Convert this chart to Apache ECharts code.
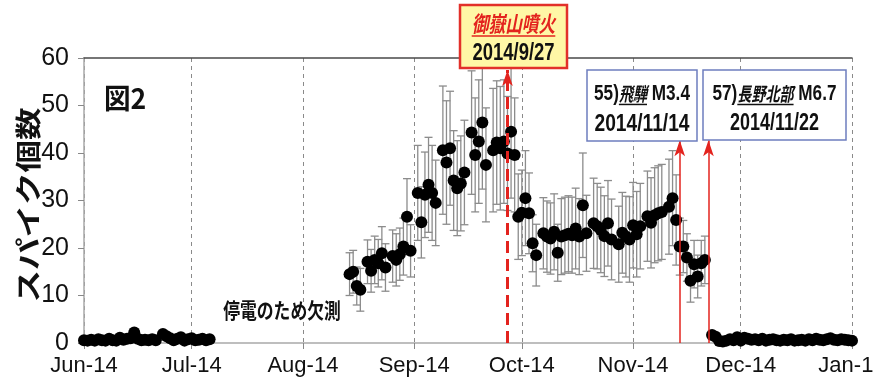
<!DOCTYPE html>
<html><head><meta charset="utf-8">
<script src="https://cdn.jsdelivr.net/npm/echarts@6/dist/echarts.min.js"></script>
<style>html,body{margin:0;padding:0;background:#fff}#c{width:874px;height:391px}</style>
</head><body><div id="c"></div>
<script>
// ---------- data ----------
const dates = [
 '2014-06-01','2014-06-02','2014-06-03','2014-06-04','2014-06-05','2014-06-06','2014-06-07','2014-06-08','2014-06-09','2014-06-10',
 '2014-06-11','2014-06-12','2014-06-13','2014-06-14','2014-06-15','2014-06-16','2014-06-17','2014-06-18','2014-06-19','2014-06-20','2014-06-21',
 '2014-06-23','2014-06-24','2014-06-25','2014-06-26','2014-06-27','2014-06-28','2014-06-29','2014-06-30',
 '2014-07-01','2014-07-02','2014-07-03','2014-07-04','2014-07-05','2014-07-06',
 '2014-08-14','2014-08-15','2014-08-16','2014-08-17','2014-08-19','2014-08-20','2014-08-21','2014-08-22','2014-08-23','2014-08-24',
 '2014-08-26','2014-08-27','2014-08-28','2014-08-29','2014-08-30','2014-08-31',
 '2014-09-02','2014-09-03','2014-09-04','2014-09-05','2014-09-06','2014-09-07','2014-09-09','2014-09-10','2014-09-11','2014-09-12',
 '2014-09-13','2014-09-14','2014-09-15','2014-09-17','2014-09-18','2014-09-19','2014-09-20','2014-09-21','2014-09-23','2014-09-24',
 '2014-09-25','2014-09-26','2014-09-27','2014-09-28','2014-09-29','2014-09-30',
 '2014-10-01','2014-10-02','2014-10-03','2014-10-04','2014-10-05','2014-10-07','2014-10-08','2014-10-09','2014-10-10','2014-10-11',
 '2014-10-12','2014-10-13','2014-10-14','2014-10-15','2014-10-16','2014-10-17','2014-10-18','2014-10-19','2014-10-21','2014-10-22',
 '2014-10-23','2014-10-24','2014-10-25','2014-10-26','2014-10-28','2014-10-29','2014-10-30','2014-10-31',
 '2014-11-01','2014-11-02','2014-11-03','2014-11-05','2014-11-06','2014-11-07','2014-11-08','2014-11-09','2014-11-11','2014-11-12',
 '2014-11-13','2014-11-14','2014-11-15','2014-11-16','2014-11-17','2014-11-18','2014-11-19','2014-11-20','2014-11-21',
 '2014-11-23','2014-11-24','2014-11-25','2014-11-26','2014-11-27','2014-11-28','2014-11-29','2014-11-30',
 '2014-12-01','2014-12-02','2014-12-03','2014-12-04','2014-12-05','2014-12-06','2014-12-07','2014-12-08','2014-12-09','2014-12-10',
 '2014-12-11','2014-12-12','2014-12-13','2014-12-14','2014-12-15','2014-12-16','2014-12-17','2014-12-18','2014-12-19','2014-12-20',
 '2014-12-21','2014-12-22','2014-12-23','2014-12-24','2014-12-25','2014-12-26','2014-12-27','2014-12-28','2014-12-29','2014-12-30',
 '2014-12-31','2015-01-01'
];
const spikes = [
 0.6,0.5,0.7,0.5,0.8,0.6,0.5,0.9,0.6,0.5, 1.1,0.7,0.9,1.0,2.2,0.9,0.6,0.7,0.6,0.8,0.6,
 1.9,1.4,1.0,0.6,0.9,1.2,0.5,0.8, 1.0,0.6,0.7,0.9,0.6,0.8,
 14.5,15.0,12.0,11.2,17.1,15.2,17.5,16.8,18.9,15.9, 18.3,17.5,18.7,20.3,26.6,19.4,
 31.6,25.4,31.2,33.3,31.6,29.5,40.6,38.0,41.0,34.2, 32.6,33.6,35.9,44.3,39.6,42.4,46.4,37.5,40.6,42.2,
 41.0,42.4,39.9,44.5,39.6,26.6,
 27.4,30.5,27.3,21.0,18.5,23.1,22.4,22.0,23.4,19.0, 22.4,22.7,23.0,22.7,24.1,22.4,29.0,23.1,25.2,24.6,
 23.8,22.5,25.2,21.8,20.8,23.2,22.4,21.8,
 24.8,22.9,24.6,26.7,25.3,26.9,27.3,27.6,28.7,30.5, 25.9,20.3,20.3,18.0,13.1,16.6,14.0,16.8,17.5,
 1.7,1.3,0.4,0.3,0.5,0.8,0.6,1.2,
 0.5,1.1,0.9,0.7,0.8,0.6,0.9,0.5,0.7,0.8, 0.6,0.5,0.7,0.6,0.8,0.5,0.6,0.7,0.5,0.8,
 0.6,0.9,0.7,0.6,0.8,1.0,0.7,0.6,0.8,0.7, 0.6,0.5
];
// half-length of the error bar (null = too small to show)
const errs = [
 null,null,null,null,null,null,null,null,null,null, null,null,null,null,null,null,null,null,null,null,null,
 null,null,null,null,null,null,null,null, null,null,null,null,null,null,
 4.5,4.5,4.0,4.5,4.6,4.5,5.0,5.0,5.6,5.0, 5.5,5.5,5.5,6.0,8.0,5.5,
 10,7.5,9,10,10,9,13.5,13,12,10.5, 10,10,11,13,12,13,14,12,13,13,
 13,13,12,14,12,9,
 9,10,8.5,6,6.5,7.5,7.5,7.5,8,6, 8,8,8,8,8.5,8,11,8,9.5,9,
 9,8.5,9,8.5,8,8.5,8.5,9,
 9,9,9,9.5,9.5,10,10,10,10,10, 9.5,6,5.5,5,4.5,5,4.5,4.8,5,
 null,null,null,null,null,null,null,null,
 null,null,null,null,null,null,null,null,null,null, null,null,null,null,null,null,null,null,null,null,
 null,null,null,null,null,null,null,null,null,null, null,null
];
const monthNames = ['Jan','Feb','Mar','Apr','May','Jun','Jul','Aug','Sep','Oct','Nov','Dec'];
const yTickValues = [0,10,20,30,40,50,60];
const eventDates = ['2014-09-27','2014-11-14','2014-11-22'];
const eventArrowTop = [57.5, 42.7, 42.7];
const yAxisTitle = 'スパイク個数';
const figLabel = '図2';
const gapNote = '停電のため欠測';

// ---------- fonts / helpers ----------
const FNUM = "'Liberation Sans',Arial,'Noto Sans CJK JP',sans-serif";
const FJP = "'Noto Sans CJK JP','Noto Sans CJK SC',sans-serif";
const mctx = document.createElement('canvas').getContext('2d');
function measure(t, s) {
  mctx.font = (s.italic ? 'italic ' : '') + (s.bold ? 'bold ' : '') + s.fs + 'px ' + s.font;
  return mctx.measureText(t).width;
}
function textEl(t, x, y, s, align) {
  return { type: 'text', x: x, y: y, scaleX: s.sx || 1, rotation: s.rot || 0, z: 101,
    style: { text: t, x: 0, y: 0, fill: s.color || '#111', fontSize: s.fs, fontFamily: s.font,
      fontWeight: s.bold ? 'bold' : 'normal', fontStyle: s.italic ? 'italic' : 'normal',
      align: align || 'left', verticalAlign: 'middle' } };
}
function box(b) {
  const els = [{ type: 'rect', z: 100, shape: { x: b.x, y: b.y, width: b.w, height: b.h },
    style: { fill: b.fill, stroke: b.stroke, lineWidth: b.lw } }];
  const cx = b.x + b.w / 2;
  b.lines.forEach(function (ln) {
    const ws = ln.segs.map(function (s) { return measure(s.t, s) * (s.sx || 1); });
    const tot = ws.reduce(function (a, c) { return a + c; }, 0);
    let cur = cx - tot / 2;
    ln.segs.forEach(function (s, i) {
      els.push(textEl(s.t, cur, ln.cy, s));
      if (s.ul) els.push({ type: 'line', z: 101, shape: { x1: cur, y1: ln.cy + s.fs * 0.55, x2: cur + ws[i], y2: ln.cy + s.fs * 0.55 },
        style: { stroke: s.color || '#111', lineWidth: 1.5 } });
      cur += ws[i];
    });
  });
  return els;
}

// ---------- series data ----------
const pointData = dates.map(function (d, i) { return [d, spikes[i]]; });
const barData = [];
dates.forEach(function (d, i) {
  if (errs[i] != null) barData.push([d, Math.max(0, spikes[i] - errs[i]), Math.min(60, spikes[i] + errs[i])]);
});

const RED = '#E3231E';
const graphics = [].concat(
  box({ x: 460, y: 5, w: 107, h: 63, fill: '#FFF7A6', stroke: '#E2302A', lw: 2.5, lines: [
    { cy: 24, segs: [{ t: '御嶽山噴火', fs: 22, sx: 0.76, color: RED, italic: true, bold: true, ul: true, font: FJP }] },
    { cy: 53, segs: [{ t: '2014/9/27', fs: 24, sx: 0.77, bold: true, font: FNUM }] } ] }),
  box({ x: 587, y: 70, w: 110, h: 71, fill: '#ffffff', stroke: '#6E7EBE', lw: 1.5, lines: [
    { cy: 94, segs: [{ t: '55)', fs: 22, sx: 0.78, bold: true, font: FNUM },
                     { t: '飛騨', fs: 19, sx: 0.74, bold: true, italic: true, ul: true, font: FJP },
                     { t: ' M3.4', fs: 22, sx: 0.78, bold: true, font: FNUM }] },
    { cy: 124, segs: [{ t: '2014/11/14', fs: 24, sx: 0.8, bold: true, font: FNUM }] } ] }),
  box({ x: 703, y: 70, w: 143, h: 70, fill: '#ffffff', stroke: '#6E7EBE', lw: 1.5, lines: [
    { cy: 94, segs: [{ t: '57)', fs: 22, sx: 0.78, bold: true, font: FNUM },
                     { t: '長野北部', fs: 19, sx: 0.74, bold: true, italic: true, ul: true, font: FJP },
                     { t: ' M6.7', fs: 22, sx: 0.78, bold: true, font: FNUM }] },
    { cy: 124, segs: [{ t: '2014/11/22', fs: 23, sx: 0.78, bold: true, font: FNUM }] } ] }),
  [
    textEl(yAxisTitle, 28, 205, { fs: 26, bold: true, font: FJP, sx: 1.25, rot: Math.PI / 2 }, 'center'),
    textEl(figLabel, 104, 98, { fs: 28, bold: true, font: FJP, sx: 0.95 }),
    textEl(gapNote, 282, 310, { fs: 21, bold: true, font: FJP, sx: 0.8 }, 'center')
  ]
);

const chart = echarts.init(document.getElementById('c'), null, { renderer: 'canvas' });
chart.setOption({
  animation: false,
  backgroundColor: '#ffffff',
  grid: { left: 84, right: 22, top: 58, bottom: 48, containLabel: false, outerBoundsMode: 'none' },
  xAxis: [{
    type: 'time', min: '2014-06-01', max: '2015-01-01', splitNumber: 7,
    axisLine: { onZero: false, lineStyle: { color: '#a9a9a9', width: 1.5 } },
    axisTick: { show: true, length: 6, lineStyle: { color: '#888' } },
    axisLabel: { color: '#111', fontSize: 22, fontFamily: FNUM, margin: 12, hideOverlap: false,
      showMinLabel: true, showMaxLabel: true,
      formatter: function (v) { const d = new Date(v); return monthNames[d.getMonth()] + '-' + String(d.getFullYear()).slice(2); } },
    splitLine: { show: true, lineStyle: { color: '#8a8a8a', width: 1, type: [4, 4] } }
  }, {
    type: 'time', position: 'top', min: '2014-06-01', max: '2015-01-01',
    axisLine: { show: true, onZero: false, lineStyle: { color: '#4a4a4a', width: 1.5 } },
    axisTick: { show: false }, axisLabel: { show: false }, splitLine: { show: false }
  }],
  yAxis: {
    type: 'value', min: 0, max: 60, interval: 10,
    axisLine: { show: true, lineStyle: { color: '#a9a9a9', width: 1.5 } },
    axisTick: { show: true, length: 6, lineStyle: { color: '#888' } },
    axisLabel: { color: '#111', fontSize: 25, fontFamily: FNUM, margin: 15,
      formatter: function (v) { return yTickValues.indexOf(v) >= 0 ? String(v) : ''; } },
    splitLine: { show: false }
  },
  series: [{
    type: 'custom', name: 'err', xAxisIndex: 0, data: barData, encode: { x: 0, y: [1, 2] }, z: 2,
    renderItem: function (params, api) {
      const x = api.value(0);
      const p1 = api.coord([x, api.value(2)]);
      const p2 = api.coord([x, api.value(1)]);
      const cw = 4, st = { stroke: '#8c8c8c', lineWidth: 1.3 };
      return { type: 'group', children: [
        { type: 'line', shape: { x1: p1[0], y1: p1[1], x2: p2[0], y2: p2[1] }, style: st },
        { type: 'line', shape: { x1: p1[0] - cw, y1: p1[1], x2: p1[0] + cw, y2: p1[1] }, style: st },
        { type: 'line', shape: { x1: p2[0] - cw, y1: p2[1], x2: p2[0] + cw, y2: p2[1] }, style: st } ] };
    }
  }, {
    type: 'scatter', name: 'spikes', xAxisIndex: 0, data: pointData, symbolSize: 12, z: 3,
    itemStyle: { color: '#000', opacity: 1 }
  }, {
    type: 'line', name: 'events', xAxisIndex: 0, data: [], z: 4,
    markLine: { silent: true, symbol: ['none', 'arrow'], label: { show: false }, animation: false,
      data: [
        [{ coord: [eventDates[0], 0], symbolSize: [12, 12], lineStyle: { color: RED, width: 3, type: [12, 6] } },
         { coord: [eventDates[0], eventArrowTop[0]] }],
        [{ coord: [eventDates[1], 0], symbolSize: [9, 9], lineStyle: { color: RED, width: 1.5, type: 'solid' } },
         { coord: [eventDates[1], eventArrowTop[1]] }],
        [{ coord: [eventDates[2], 0], symbolSize: [9, 9], lineStyle: { color: RED, width: 1.5, type: 'solid' } },
         { coord: [eventDates[2], eventArrowTop[2]] }]
      ] }
  }],
  graphic: graphics
});
</script></body></html>
